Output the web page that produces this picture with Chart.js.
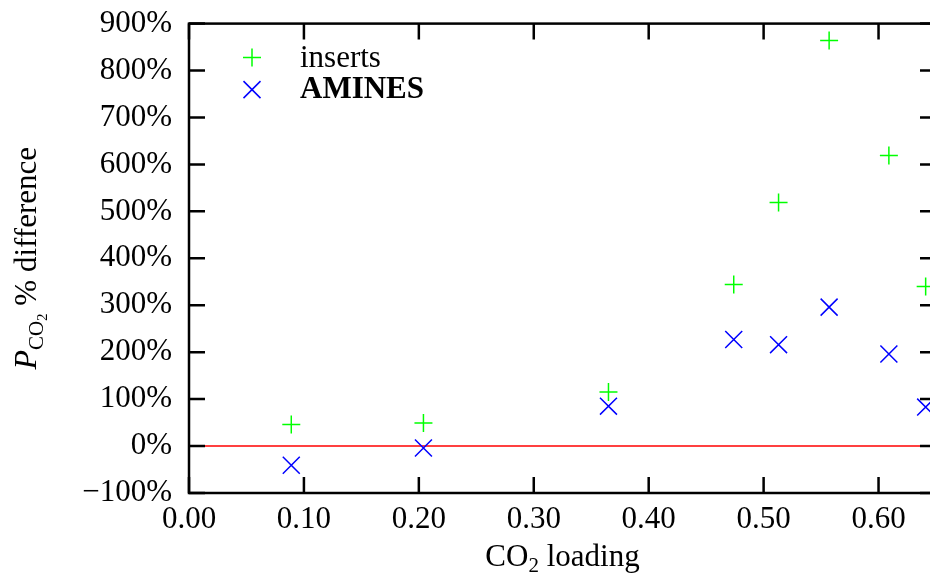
<!DOCTYPE html>
<html>
<head>
<meta charset="utf-8">
<script src="https://cdn.jsdelivr.net/npm/chart.js@4/dist/chart.umd.min.js"></script>
<style>
  html, body { margin: 0; padding: 0; overflow: hidden; background: #fff; }
  canvas { display: block; margin-top: -12px; }
</style>
</head>
<body>
<canvas id="chart" width="960" height="586"></canvas>
<script>
// CO2 loading (x) shared by both series
const loading = [0.089, 0.204, 0.365, 0.474, 0.513, 0.557, 0.609, 0.641];
const insertsDiff = [46, 49, 115, 344, 519, 864, 619, 340];
const aminesDiff = [-41, -4, 85, 227, 216, 296, 196, 83];
const zeroLineX = [0, 0.65];
const xTicks = [0, 0.1, 0.2, 0.3, 0.4, 0.5, 0.6];
const yTicks = [-100, 0, 100, 200, 300, 400, 500, 600, 700, 800, 900];

const serif = "'Liberation Serif', 'Times New Roman', serif";
const fs = 31;

function points(xs, ys) {
  return xs.map((x, i) => ({ x: x, y: ys[i] }));
}

function drawParts(ctx, parts, cx, baseY) {
  let total = 0;
  parts.forEach(p => { ctx.font = p.f; p.w = ctx.measureText(p.t).width; total += p.w; });
  let x = cx - total / 2;
  ctx.textAlign = 'left';
  parts.forEach(p => {
    ctx.font = p.f;
    ctx.fillText(p.t, x, baseY + p.dy);
    x += p.w;
  });
}

const framePlugin = {
  id: 'frame',
  afterDraw(chart) {
    const { ctx, chartArea: a, scales } = chart;
    const tick = 16;
    ctx.save();
    ctx.strokeStyle = '#000';
    ctx.lineWidth = 2.5;

    // inward tick marks on all four sides
    ctx.beginPath();
    xTicks.forEach(v => {
      const px = scales.x.getPixelForValue(v);
      ctx.moveTo(px, a.bottom); ctx.lineTo(px, a.bottom - tick);
      ctx.moveTo(px, a.top); ctx.lineTo(px, a.top + tick);
    });
    yTicks.forEach(v => {
      const py = scales.y.getPixelForValue(v);
      ctx.moveTo(a.left, py); ctx.lineTo(a.left + tick, py);
      ctx.moveTo(a.right, py); ctx.lineTo(a.right - tick, py);
    });
    ctx.stroke();
    ctx.strokeRect(a.left, a.top, a.right - a.left, a.bottom - a.top);

    ctx.fillStyle = '#000';
    ctx.textBaseline = 'alphabetic';

    // x title: CO2 loading
    const cx = (a.left + a.right) / 2;
    drawParts(ctx, [
      { t: 'CO', f: fs + 'px ' + serif, dy: 0 },
      { t: '2', f: '21px ' + serif, dy: 6 },
      { t: ' loading', f: fs + 'px ' + serif, dy: 0 }
    ], cx, a.bottom + 73);

    // y title: P_CO2 % difference
    ctx.save();
    ctx.translate(36, (a.top + a.bottom) / 2);
    ctx.rotate(-Math.PI / 2);
    drawParts(ctx, [
      { t: 'P', f: 'italic 32px ' + serif, dy: 0 },
      { t: 'CO', f: '21px ' + serif, dy: 7 },
      { t: '2', f: '15px ' + serif, dy: 11 },
      { t: ' % difference', f: fs + 'px ' + serif, dy: 0 }
    ], 0, 0);
    ctx.restore();

    // legend
    const lx = a.left + 63;
    const y1 = a.top + 34, y2 = a.top + 66;
    ctx.lineWidth = 1.5;
    ctx.strokeStyle = '#00ff00';
    ctx.beginPath();
    ctx.moveTo(lx - 9, y1); ctx.lineTo(lx + 9, y1);
    ctx.moveTo(lx, y1 - 9); ctx.lineTo(lx, y1 + 9);
    ctx.stroke();
    ctx.strokeStyle = '#0000ff';
    ctx.beginPath();
    ctx.moveTo(lx - 8.5, y2 - 8.5); ctx.lineTo(lx + 8.5, y2 + 8.5);
    ctx.moveTo(lx - 8.5, y2 + 8.5); ctx.lineTo(lx + 8.5, y2 - 8.5);
    ctx.stroke();
    ctx.textAlign = 'left';
    ctx.font = fs + 'px ' + serif;
    ctx.fillText('inserts', a.left + 111, a.top + 43);
    ctx.font = 'bold ' + fs + 'px ' + serif;
    ctx.fillText('AMINES', a.left + 111, a.top + 74);
    ctx.restore();
  }
};

new Chart(document.getElementById('chart').getContext('2d'), {
  type: 'scatter',
  data: {
    datasets: [
      {
        label: 'inserts',
        data: points(loading, insertsDiff),
        pointStyle: 'cross',
        radius: 9,
        hoverRadius: 9,
        borderWidth: 1.5,
        borderColor: '#00ff00',
        backgroundColor: '#00ff00'
      },
      {
        label: 'AMINES',
        data: points(loading, aminesDiff),
        pointStyle: 'crossRot',
        radius: 12,
        hoverRadius: 12,
        borderWidth: 1.5,
        borderColor: '#0000ff',
        backgroundColor: '#0000ff'
      },
      {
        type: 'line',
        label: 'zero',
        data: zeroLineX.map(x => ({ x: x, y: 0 })),
        borderColor: '#ff0000',
        borderWidth: 1.5,
        pointRadius: 0,
        order: 5
      }
    ]
  },
  options: {
    responsive: false,
    animation: false,
    events: [],
    layout: { padding: { top: 23, right: 24, left: 0, bottom: 0 } },
    plugins: {
      legend: { display: false },
      tooltip: { enabled: false }
    },
    scales: {
      x: {
        type: 'linear',
        min: 0,
        max: 0.65,
        afterBuildTicks: s => { s.ticks = xTicks.map(v => ({ value: v })); },
        afterFit: s => { s.height = 81; },
        grid: { display: false, drawTicks: false },
        border: { display: false },
        ticks: {
          padding: 8,
          color: '#000',
          font: { family: serif, size: fs },
          maxRotation: 0,
          callback: v => v.toFixed(2)
        }
      },
      y: {
        min: -100,
        max: 900,
        afterBuildTicks: s => { s.ticks = yTicks.map(v => ({ value: v })); },
        afterFit: s => { s.width = 189; },
        grid: { display: false, drawTicks: false },
        border: { display: false },
        ticks: {
          padding: 17,
          color: '#000',
          font: { family: serif, size: fs },
          callback: v => (v < 0 ? '\u2212' + Math.abs(v) : v) + '%'
        }
      }
    }
  },
  plugins: [framePlugin]
});
</script>
</body>
</html>
